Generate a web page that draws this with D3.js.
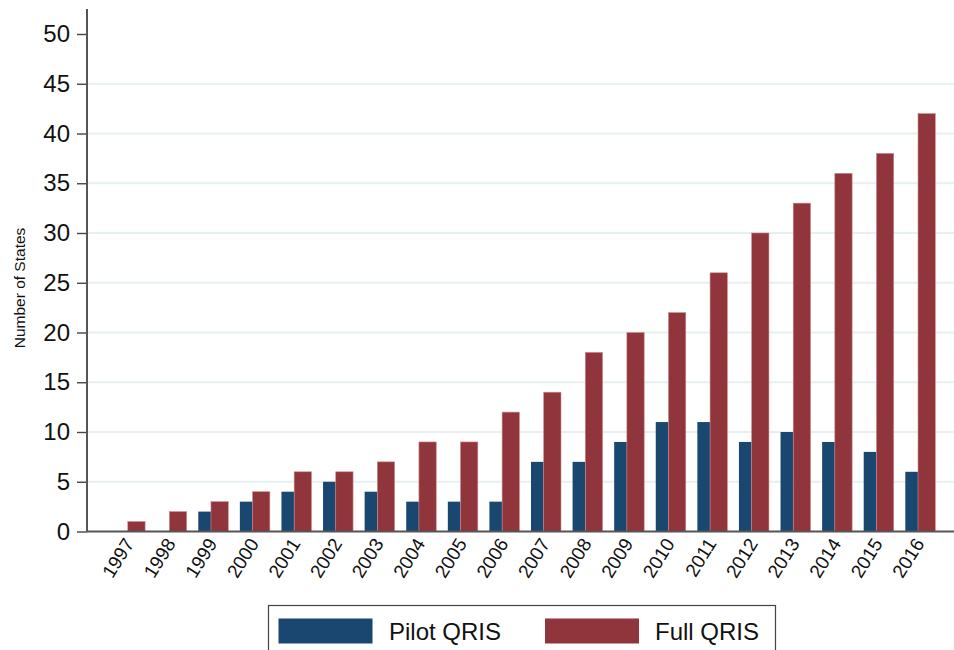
<!DOCTYPE html>
<html>
<head>
<meta charset="utf-8">
<script src="https://cdnjs.cloudflare.com/ajax/libs/d3/7.9.0/d3.min.js"></script>
<style>
  body { margin: 0; background: #fff; }
  text { font-family: "Liberation Sans", Arial, sans-serif; fill: #111; }
</style>
</head>
<body>
<div id="chart"></div>
<script>

// data

const years = ["1997","1998","1999","2000","2001","2002","2003","2004","2005","2006",
               "2007","2008","2009","2010","2011","2012","2013","2014","2015","2016"]
const pilotQris = [0, 0, 2, 3, 4, 5, 4, 3, 3, 3, 7, 7, 9, 11, 11, 9, 10, 9, 8, 6]
const fullQris  = [1, 2, 3, 4, 6, 6, 7, 9, 9, 12, 14, 18, 20, 22, 26, 30, 33, 36, 38, 42]
const yTicks = [0, 5, 10, 15, 20, 25, 30, 35, 40, 45, 50]
const seriesNames = ["Pilot QRIS", "Full QRIS"]

const navy = "#1a476f"
const maroon = "#90353b"

const W = 954, H = 650
const margin = {top: 9, right: 0, bottom: 118, left: 87}

const svg = d3.select("#chart")
    .append("svg")
    .attr("width", W)
    .attr("height", H)

// scales

const x = d3.scaleBand()
    .domain(years)
    .range([107, 938.8])
    .padding(0)

const y = d3.scaleLinear()
    .domain([0, 50])
    .range([531.5, 34])

// gridlines

svg.append("g")
    .selectAll("line")
    .data(yTicks.filter(d => d > 0 && d < 50))
    .join("line")
    .attr("x1", margin.left)
    .attr("x2", W)
    .attr("y1", d => y(d))
    .attr("y2", d => y(d))
    .attr("stroke", "#e6eff2")
    .attr("stroke-width", 1.8)

// bars: pilot on the left of the year's centre, full on the right

const mid = d => x(d) + x.bandwidth() / 2
const pilotW = 12.7, fullW = 17.3

svg.append("g")
    .selectAll("rect")
    .data(years.map((yr, i) => ({yr, v: pilotQris[i]})).filter(d => d.v > 0))
    .join("rect")
    .attr("x", d => mid(d.yr) - pilotW)
    .attr("width", pilotW)
    .attr("y", d => y(d.v))
    .attr("height", d => y(0) - y(d.v))
    .attr("fill", navy)

svg.append("g")
    .selectAll("rect")
    .data(years.map((yr, i) => ({yr, v: fullQris[i]})))
    .join("rect")
    .attr("x", d => mid(d.yr))
    .attr("width", fullW)
    .attr("y", d => y(d.v))
    .attr("height", d => y(0) - y(d.v))
    .attr("fill", maroon)
    .attr("stroke", "#c98a8e")
    .attr("stroke-width", 0.6)

// y axis

const yAxis = svg.append("g")
    .attr("transform", `translate(${margin.left},0)`)
    .call(d3.axisLeft(y).tickValues(yTicks).tickSize(10).tickPadding(7).tickSizeOuter(0))

yAxis.select(".domain").remove()
yAxis.selectAll(".tick line").attr("stroke", "#444").attr("stroke-width", 1.4)
yAxis.selectAll(".tick text")
    .style("font-size", "24px")
    .style("font-family", "'Liberation Sans', Arial, sans-serif")
    .attr("fill", "#111")

svg.append("line")
    .attr("x1", margin.left).attr("x2", margin.left)
    .attr("y1", margin.top).attr("y2", y(0))
    .attr("stroke", "#555").attr("stroke-width", 2)

// x axis

svg.append("line")
    .attr("x1", margin.left).attr("x2", W)
    .attr("y1", y(0)).attr("y2", y(0))
    .attr("stroke", "#555").attr("stroke-width", 2)

svg.append("g")
    .selectAll("text")
    .data(years)
    .join("text")
    .attr("transform", d => `translate(${mid(d) + 7},${y(0) + 12}) rotate(-58)`)
    .attr("text-anchor", "end")
    .style("font-size", "19px")
    .text(d => d)

// axis title

svg.append("text")
    .attr("transform", `translate(25,288) rotate(-90)`)
    .attr("text-anchor", "middle")
    .style("font-size", "15.5px")
    .text("Number of States")

// legend

const legend = svg.append("g")

legend.append("rect")
    .attr("x", 268.5).attr("y", 605.5)
    .attr("width", 507).attr("height", 60)
    .attr("fill", "#fff")
    .attr("stroke", "#444")
    .attr("stroke-width", 1.2)

const items = [
    {name: seriesNames[0], color: navy, sx: 278.5, tx: 389},
    {name: seriesNames[1], color: maroon, sx: 545, tx: 655}
]

legend.selectAll("rect.sw")
    .data(items)
    .join("rect")
    .attr("class", "sw")
    .attr("x", d => d.sx)
    .attr("y", 618.5)
    .attr("width", 94)
    .attr("height", 25)
    .attr("fill", d => d.color)

legend.selectAll("text")
    .data(items)
    .join("text")
    .attr("x", d => d.tx)
    .attr("y", 639.5)
    .style("font-size", "24px")
    .text(d => d.name)

</script>
</body>
</html>
